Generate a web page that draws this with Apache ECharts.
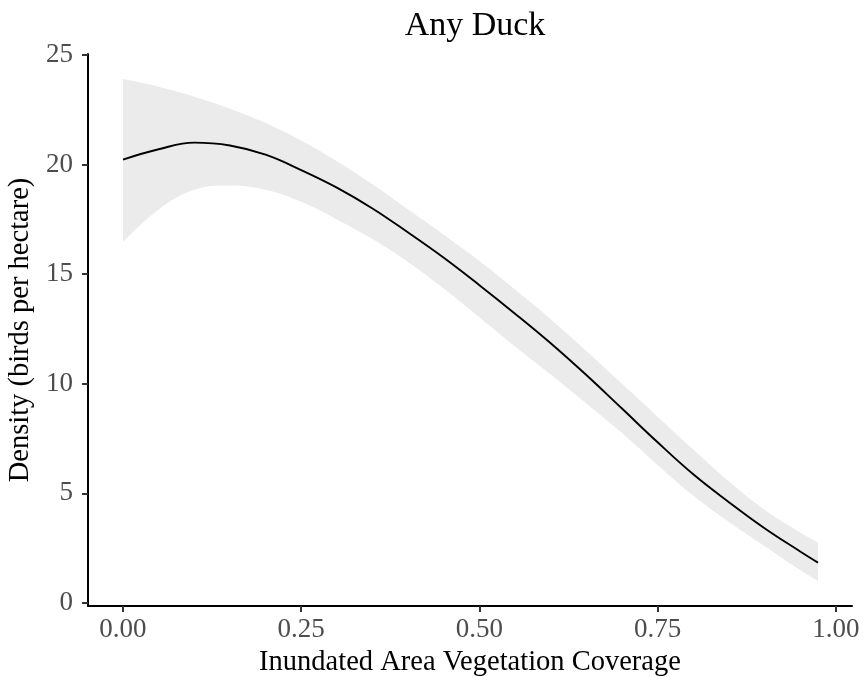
<!DOCTYPE html>
<html>
<head>
<meta charset="utf-8">
<script src="https://cdn.jsdelivr.net/npm/echarts@6/dist/echarts.min.js"></script>
<style>html,body{margin:0;padding:0;background:#fff;}#c{width:864px;height:677px;}</style>
</head>
<body>
<div id="c"></div>
<script>
var titleText = 'Any Duck';
var xName = 'Inundated Area Vegetation Coverage';
var yName = 'Density (birds per hectare)';
var xTicks = [0, 0.25, 0.5, 0.75, 1.0];
var yTicks = [0, 5, 10, 15, 20, 25];
var xs    = [0, 0.05, 0.10, 0.15, 0.20, 0.25, 0.30, 0.35, 0.40, 0.45, 0.50, 0.55, 0.60, 0.65, 0.70, 0.75, 0.80, 0.85, 0.90, 0.95, 0.975];
var fit   = [20.23, 20.7, 21.0, 20.87, 20.45, 19.75, 18.95, 18.0, 16.9, 15.75, 14.5, 13.2, 11.85, 10.4, 8.87, 7.33, 5.87, 4.6, 3.41, 2.35, 1.84];
var upper = [23.9, 23.55, 23.1, 22.55, 21.9, 21.1, 20.15, 19.1, 17.95, 16.8, 15.6, 14.3, 12.95, 11.5, 10.0, 8.5, 7.0, 5.55, 4.25, 3.22, 2.76];
var lower = [16.47, 17.95, 18.85, 19.05, 18.85, 18.3, 17.5, 16.6, 15.55, 14.35, 13.04, 11.7, 10.42, 9.1, 7.75, 6.3, 4.9, 3.7, 2.6, 1.5, 1.0];

function pairs(ys){ return xs.map(function(x,i){ return [x, ys[i]]; }); }
var FONT = 'Liberation Serif';
var chart = echarts.init(document.getElementById('c'), null, {renderer:'canvas'});
chart.setOption({
  animation: false,
  backgroundColor: '#ffffff',
  title: {
    text: titleText, left: 470, top: 4, textAlign: 'center',
    textStyle: {fontFamily: FONT, fontSize: 34, fontWeight: 'normal', color: '#000'}
  },
  grid: {left: 88, right: 12, top: 54, bottom: 71, containLabel: false, outerBoundsMode: 'none'},
  xAxis: {
    type: 'value', min: -0.0491, max: 1.0227,
    name: xName, nameLocation: 'middle', nameGap: 40,
    nameTextStyle: {fontFamily: FONT, fontSize: 28.5, color: '#000'},
    axisLine: {onZero: false, lineStyle: {color: '#000', width: 2}},
    axisTick: {show: true, customValues: xTicks, length: 6, lineStyle: {color: '#333', width: 2}},
    axisLabel: {customValues: xTicks, formatter: function(v){ return Number(v).toFixed(2); },
      fontFamily: FONT, fontSize: 27, color: '#4d4d4d', margin: 10},
    splitLine: {show: false}
  },
  yAxis: {
    type: 'value', min: -0.137, max: 25.045,
    name: yName, nameLocation: 'middle', nameGap: 38,
    nameTextStyle: {fontFamily: FONT, fontSize: 28.5, color: '#000'},
    axisLine: {onZero: false, lineStyle: {color: '#000', width: 2}},
    axisTick: {show: true, customValues: yTicks, length: 6, lineStyle: {color: '#333', width: 2}},
    axisLabel: {customValues: yTicks, fontFamily: FONT, fontSize: 27, color: '#4d4d4d', margin: 15},
    splitLine: {show: false}
  },
  series: [
    {type: 'line', data: pairs(upper), smooth: 0.4, symbol: 'none', silent: true,
     lineStyle: {width: 0, opacity: 0}, areaStyle: {color: '#ebebeb', opacity: 1, origin: 0}, z: 1},
    {type: 'line', data: pairs(lower), smooth: 0.4, symbol: 'none', silent: true,
     lineStyle: {width: 0, opacity: 0}, areaStyle: {color: '#ffffff', opacity: 1, origin: 0}, z: 1},
    {type: 'line', data: pairs(fit), smooth: 0.4, symbol: 'none', silent: true,
     lineStyle: {color: '#000', width: 1.9}, z: 3}
  ]
});
</script>
</body>
</html>
